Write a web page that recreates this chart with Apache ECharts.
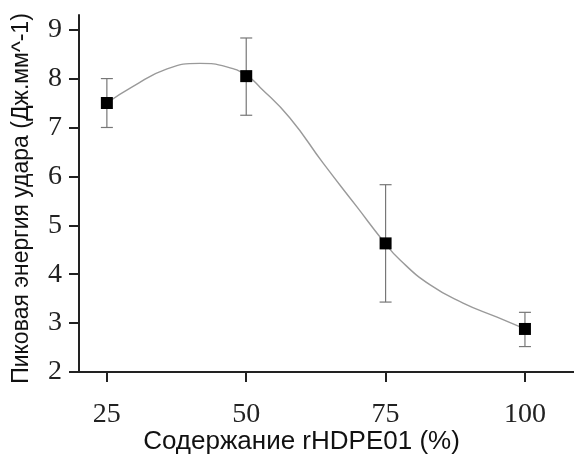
<!DOCTYPE html>
<html>
<head>
<meta charset="utf-8">
<script src="https://cdn.jsdelivr.net/npm/echarts@6/dist/echarts.min.js"></script>
<style>
    html, body { margin: 0; padding: 0; background: #fff; }
    #chart { width: 574px; height: 456px; }
</style>
</head>
<body>
<div id="chart"></div>
<script>
    // measured points (content %, peak energy) with error bars
    var contents = [25, 50, 75, 100];
    var energy = [7.5, 8.05, 4.63, 2.88];
    var errUp = [0.5, 0.78, 1.2, 0.34];
    var errDown = [0.5, 0.8, 1.2, 0.36];

    // fitted curve
    var curveX = [25, 29.7, 35.8, 41.7, 46.5, 50.1, 52.5, 57.8, 63.8, 69.9, 74.5, 77.6, 83.0, 88.9, 95.0, 100];
    var curveY = [7.5, 7.84, 8.20, 8.31, 8.24, 8.06, 7.82, 7.20, 6.27, 5.37, 4.69, 4.29, 3.78, 3.41, 3.12, 2.88];

    var xTicks = [25, 50, 75, 100];
    var yTicks = [2, 3, 4, 5, 6, 7, 8, 9];

    var points = contents.map(function (c, i) { return [c, energy[i]]; });
    var bars = contents.map(function (c, i) { return [c, energy[i] - errDown[i], energy[i] + errUp[i]]; });
    var curve = curveX.map(function (x, i) { return [x, curveY[i]]; });

    var chart = echarts.init(document.getElementById('chart'));
    chart.setOption({
        animation: false,
        grid: { left: 79, right: 0, top: 15, bottom: 84, containLabel: false, outerBoundsMode: 'none' },
        xAxis: {
            type: 'value',
            min: 20,
            max: 108.8,
            name: 'Содержание rHDPE01 (%)',
            nameLocation: 'middle',
            nameGap: 57,
            nameMoveOverlap: false,
            nameTextStyle: { fontFamily: 'Liberation Sans', fontSize: 26, color: '#111', padding: [0, 50, 0, 0] },
            axisLine: { lineStyle: { color: '#222', width: 2 } },
            axisTick: { customValues: xTicks, length: 10, inside: false, lineStyle: { color: '#222', width: 2 } },
            axisLabel: { customValues: xTicks, margin: 29, fontFamily: 'Liberation Serif', fontSize: 28, color: '#222' },
            splitLine: { show: false }
        },
        yAxis: {
            type: 'value',
            min: 2,
            max: 9.3,
            name: 'Пиковая энергия удара (Дж.мм^-1)',
            nameLocation: 'middle',
            nameRotate: 90,
            nameGap: 46,
            nameTextStyle: { fontFamily: 'Liberation Sans', fontSize: 23, color: '#111', padding: [0, 10, 0, 0] },
            axisLine: { show: true, lineStyle: { color: '#222', width: 2 } },
            axisTick: { show: true, customValues: yTicks, length: 10, lineStyle: { color: '#222', width: 2 } },
            axisLabel: { customValues: yTicks, margin: 17, fontFamily: 'Liberation Serif', fontSize: 28, color: '#222' },
            splitLine: { show: false }
        },
        series: [
            {
                name: 'fit',
                type: 'line',
                data: curve,
                smooth: true,
                showSymbol: false,
                lineStyle: { color: '#9a9a9a', width: 1.4 },
                z: 1
            },
            {
                name: 'err',
                type: 'custom',
                data: bars,
                renderItem: function (params, api) {
                    var x = api.value(0);
                    var lo = api.coord([x, api.value(1)]);
                    var hi = api.coord([x, api.value(2)]);
                    var w = 6;
                    var style = { stroke: '#777', lineWidth: 1.2 };
                    return {
                        type: 'group',
                        children: [
                            { type: 'line', shape: { x1: lo[0], y1: lo[1], x2: hi[0], y2: hi[1] }, style: style },
                            { type: 'line', shape: { x1: lo[0] - w, y1: lo[1], x2: lo[0] + w, y2: lo[1] }, style: style },
                            { type: 'line', shape: { x1: hi[0] - w, y1: hi[1], x2: hi[0] + w, y2: hi[1] }, style: style }
                        ]
                    };
                },
                z: 2
            },
            {
                name: 'data',
                type: 'scatter',
                data: points,
                symbol: 'rect',
                symbolSize: 12,
                itemStyle: { color: '#000', opacity: 1 },
                z: 3
            }
        ]
    });
</script>
</body>
</html>
